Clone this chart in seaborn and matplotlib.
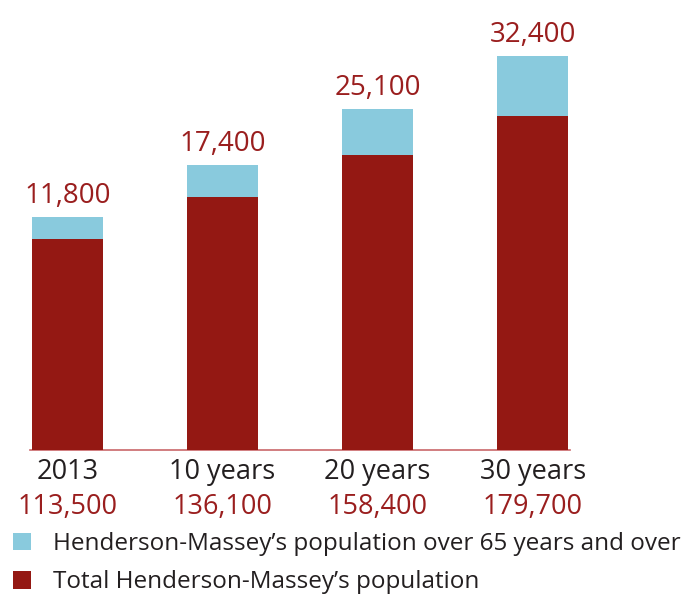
import numpy as np
import pandas as pd
import matplotlib
matplotlib.use("Agg")
import matplotlib.pyplot as plt
import seaborn as sns
from matplotlib.patches import Patch

categories = ["2013", "10 years", "20 years", "30 years"]
total_pop = [113500, 136100, 158400, 179700]
over65_pop = [11800, 17400, 25100, 32400]
legend_labels = ["Henderson-Massey\u2019s population over 65 years and over",
                 "Total Henderson-Massey\u2019s population"]

RED = "#941813"
CYAN = "#89CADD"
LABEL_RED = "#9A1E1E"
TEXT = "#231F20"

sns.set_theme(style="white")
plt.rcParams["font.family"] = ["Open Sans", "DejaVu Sans"]

df = pd.DataFrame({"cat": categories, "total": total_pop, "over65": over65_pop})
df["stack"] = df["total"] + df["over65"]

fig = plt.figure(figsize=(6.83, 6.01), dpi=100)
ax = fig.add_axes([30 / 683, 1 - 450 / 601, 540 / 683, 450 / 601])

sns.barplot(data=df, x="cat", y="stack", color=CYAN, saturation=1, width=0.46,
            linewidth=0, edgecolor="none", ax=ax)
sns.barplot(data=df, x="cat", y="total", color=RED, saturation=1, width=0.46,
            linewidth=0, edgecolor="none", ax=ax)

ax.set_xlim(-0.24, 3.24)
ax.set_ylim(0, 242000)
ax.set_xlabel("")
ax.set_ylabel("")
ax.set_yticks([])
for s in ["top", "right", "left"]:
    ax.spines[s].set_visible(False)
ax.spines["bottom"].set_color("#C9676A")
ax.spines["bottom"].set_linewidth(1.2)
ax.spines["bottom"].set_zorder(0)

ax.set_xticks(range(len(categories)))
ax.set_xticklabels(categories, fontsize=19.5, color=TEXT)
ax.tick_params(axis="x", length=0, pad=6)

for i, (s, v) in enumerate(zip(df["stack"], over65_pop)):
    ax.annotate(f"{v:,}", xy=(i, s), xytext=(0, 5), textcoords="offset points",
                ha="center", va="bottom", fontsize=20, color=LABEL_RED)

for i, t in enumerate(total_pop):
    ax.annotate(f"{t:,}", xy=(i, 0), xycoords=("data", "axes fraction"),
                xytext=(0, -57), textcoords="offset pixels",
                ha="center", va="center", fontsize=19.5, color=LABEL_RED)

handles = [Patch(facecolor=CYAN, edgecolor="none"), Patch(facecolor=RED, edgecolor="none")]
leg = fig.legend(handles, legend_labels, loc="upper left", bbox_to_anchor=(0.005, 0.131),
                 frameon=False, fontsize=17.5, handlelength=0.75, handleheight=0.75,
                 handletextpad=0.9, labelspacing=0.58, borderaxespad=0)
for t in leg.get_texts():
    t.set_color(TEXT)

fig.savefig("out.png", dpi=100)
